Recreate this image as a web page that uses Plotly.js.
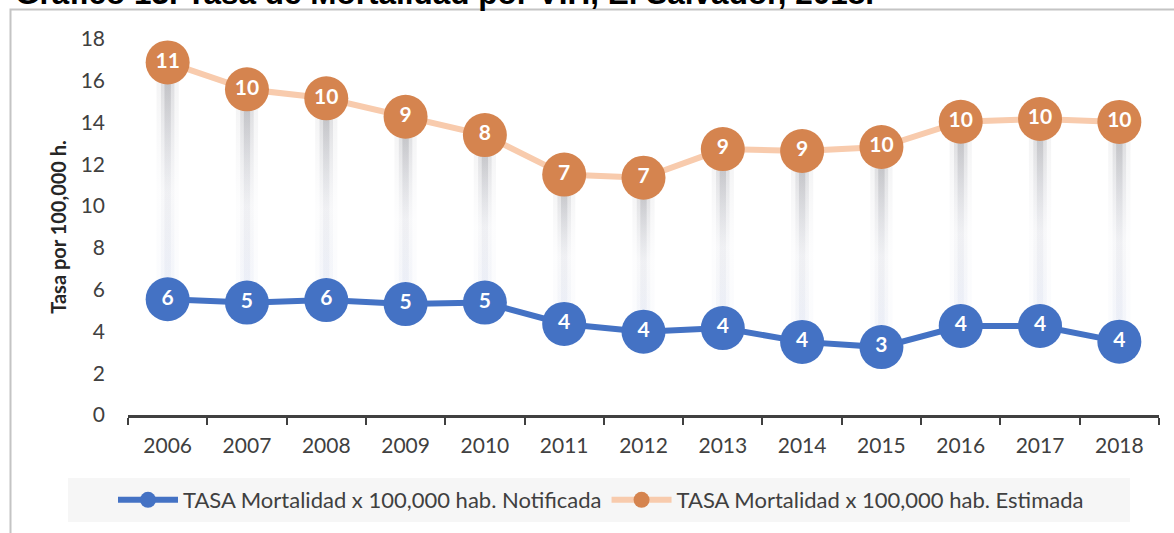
<!DOCTYPE html>
<html>
<head>
<meta charset="utf-8">
<script src="https://cdn.plot.ly/plotly-3.0.1.min.js"></script>
<style>
  html, body { margin: 0; padding: 0; background: #fff; }
  #chart { width: 1174px; height: 533px; }
</style>
</head>
<body>
<div id="chart"></div>
<script>
// ---- data ----
const years = ['2006','2007','2008','2009','2010','2011','2012','2013','2014','2015','2016','2017','2018'];
const notificada = [5.54, 5.38, 5.5, 5.31, 5.38, 4.36, 3.99, 4.16, 3.5, 3.25, 4.26, 4.26, 3.51];
const estimada   = [16.88, 15.59, 15.16, 14.28, 13.4, 11.51, 11.36, 12.73, 12.64, 12.83, 14.04, 14.17, 14.03];
const notificadaLabels = ['6','5','6','5','5','4','4','4','4','3','4','4','4'];
const estimadaLabels   = ['11','10','10','9','8','7','7','9','9','10','10','10','10'];
const nameNotificada = 'TASA Mortalidad x 100,000 hab. Notificada';
const nameEstimada   = 'TASA Mortalidad x 100,000 hab. Estimada';
const chartTitle = 'Gráfico 13. Tasa de Mortalidad por VIH, El Salvador, 2018.';
const yTitle = 'Tasa por 100,000 h.';

const FONT = 'Lato, "Open Sans", sans-serif';
const xIdx = years.map((_, i) => i);

// ---- high-low connector bars with vertical gradient ----
const traces = [];
const layers = [
  {hw: 0.14, scale: [[0,'rgba(220,228,248,0.12)'],[0.45,'rgba(205,208,220,0.05)'],[1,'rgba(160,160,165,0.14)']]},
  {hw: 0.085,scale: [[0,'rgba(215,224,246,0.20)'],[0.45,'rgba(200,203,214,0.09)'],[1,'rgba(150,150,156,0.28)']]},
  {hw: 0.04, scale: [[0,'rgba(210,220,245,0.22)'],[0.45,'rgba(190,193,205,0.14)'],[1,'rgba(135,135,140,0.38)']]}
];
layers.forEach(L => {
  xIdx.forEach(i => {
    const lo = notificada[i], hi = estimada[i];
    traces.push({
      type: 'scatter', mode: 'none', fill: 'toself',
      x: [i - L.hw, i + L.hw, i + L.hw, i - L.hw, i - L.hw],
      y: [lo, lo, hi, hi, lo],
      fillgradient: {type: 'vertical', colorscale: L.scale},
      hoverinfo: 'skip', showlegend: false
    });
  });
});

// ---- series ----
traces.push({
  type: 'scatter', mode: 'lines+markers+text', name: nameNotificada,
  x: xIdx, y: notificada, text: notificadaLabels,
  textposition: 'middle center',
  textfont: {family: FONT, size: 21, color: '#ffffff', weight: 'bold'},
  line: {color: '#4472C4', width: 6},
  marker: {color: '#4472C4', size: 44, line: {width: 0}},
  cliponaxis: false
});
traces.push({
  type: 'scatter', mode: 'lines+markers+text', name: nameEstimada,
  x: xIdx, y: estimada, text: estimadaLabels,
  textposition: 'middle center',
  textfont: {family: FONT, size: 21, color: '#ffffff', weight: 'bold'},
  line: {color: '#F8CBAD', width: 6},
  marker: {color: '#D5844F', size: 44, line: {width: 0}},
  cliponaxis: false
});

// pixel helpers for frame/legend background (paper coords)
const L0 = 128, PW = 1031, T0 = 39, PH = 376;
const px = v => (v - L0) / PW;
const py = v => (T0 + PH - v) / PH;

const layout = {
  width: 1174, height: 533,
  margin: {l: L0, r: 1174 - L0 - PW, t: T0, b: 533 - T0 - PH, pad: 0},
  paper_bgcolor: '#ffffff', plot_bgcolor: '#ffffff',
  font: {family: FONT, color: '#404040'},
  title: {
    text: chartTitle,
    font: {family: '"Liberation Sans", Arial, sans-serif', size: 31.5, color: '#000000', weight: 'bold'},
    xref: 'container', x: 15 / 1174, xanchor: 'left',
    yref: 'paper', y: 1, yanchor: 'bottom', pad: {b: 35}
  },
  xaxis: {
    range: [-0.5, 12.5], tickmode: 'array', tickvals: xIdx, ticktext: years,
    ticks: '', showgrid: false, zeroline: false,
    showline: true, linecolor: '#404040', linewidth: 3,
    tickfont: {family: FONT, size: 21, color: '#404040'},
    ticklabelstandoff: 10,
    minor: {tick0: -0.5, dtick: 1, ticks: 'outside', ticklen: 7, tickwidth: 2, tickcolor: '#404040', showgrid: false},
    fixedrange: true
  },
  yaxis: {
    range: [0, 18], dtick: 2, tick0: 0, showgrid: false, zeroline: false, showline: false,
    ticks: '', tickfont: {family: FONT, size: 21, color: '#404040'},
    ticklabelstandoff: 22,
    title: {text: yTitle, font: {family: FONT, size: 20, color: '#262626', weight: 'bold'}, standoff: 8},
    fixedrange: true
  },
  showlegend: true,
  legend: {
    orientation: 'h', x: px(601), xanchor: 'center', y: py(500), yanchor: 'middle',
    bgcolor: 'rgba(0,0,0,0)', font: {family: FONT, size: 22, color: '#404040'},
    itemwidth: 60, traceorder: 'normal'
  },
  shapes: [
    {type: 'rect', xref: 'paper', yref: 'paper', layer: 'below',
     x0: px(68), x1: px(1130), y0: py(522), y1: py(478),
     fillcolor: '#f6f6f6', line: {width: 0}},
    {type: 'path', xref: 'paper', yref: 'paper', layer: 'above',
     path: `M ${px(10.5)} ${py(560)} L ${px(10.5)} ${py(9.5)} L ${px(1200)} ${py(9.5)}`,
     line: {color: '#c4c4c4', width: 2}}
  ]
};

Plotly.newPlot('chart', traces, layout, {displayModeBar: false, staticPlot: true});
</script>
</body>
</html>
